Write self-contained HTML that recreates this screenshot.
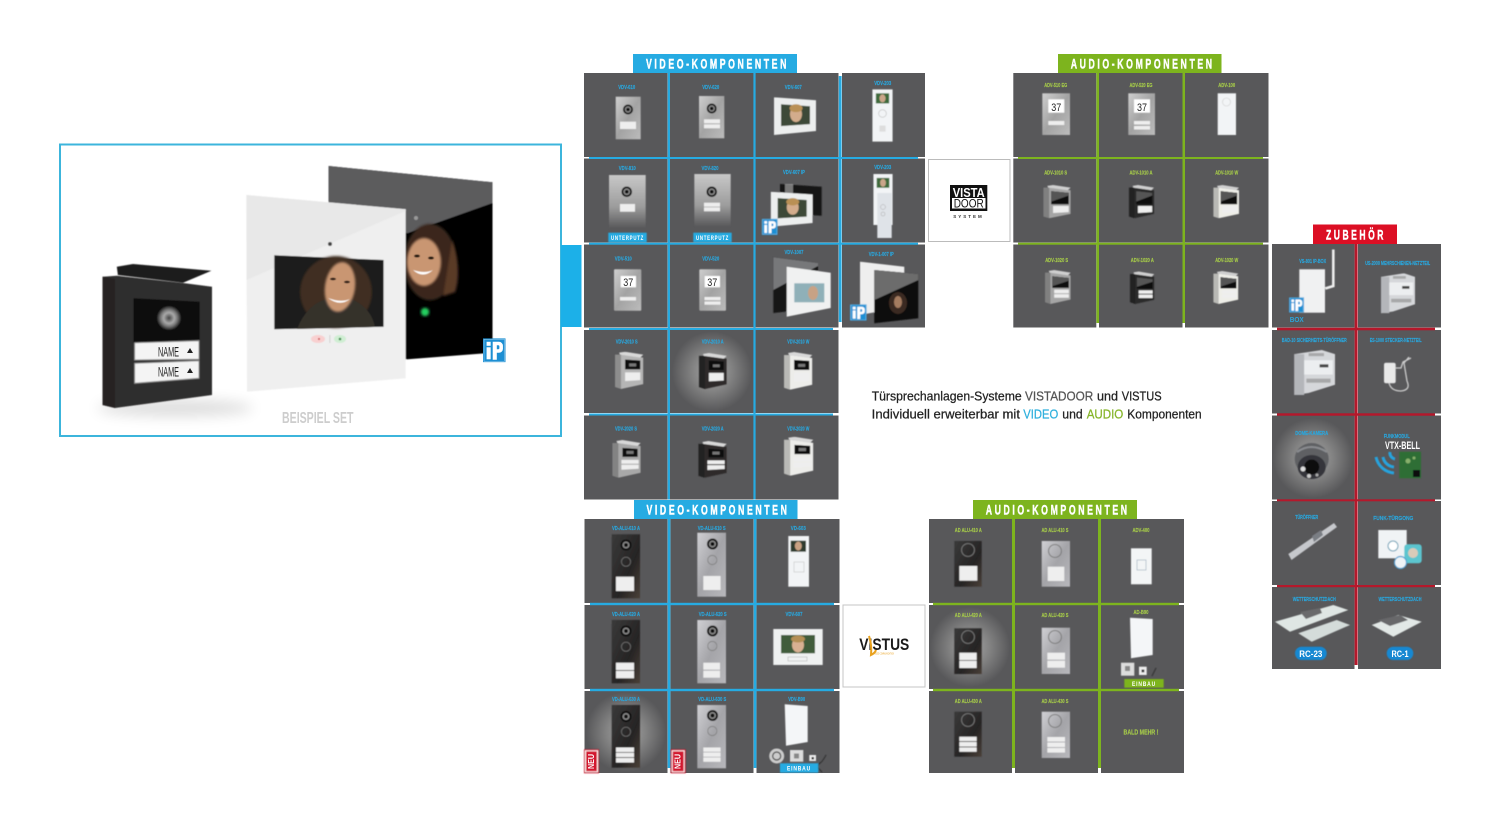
<!DOCTYPE html>
<html lang="de"><head><meta charset="utf-8"><title>Türsprechanlagen-Systeme</title>
<style>
html,body{margin:0;padding:0;background:#fff}
svg{display:block}
text{font-family:"Liberation Sans",sans-serif}
.l{font-size:5.5px;font-weight:bold;text-anchor:middle;fill:#2aa6dc;stroke:#2aa6dc;stroke-width:.15px}
.g{font-size:5.5px;font-weight:bold;text-anchor:middle;fill:#a5c94a;stroke:#a5c94a;stroke-width:.15px}
.b{font-size:13.5px;font-weight:bold;fill:#fff;letter-spacing:4px;stroke:#fff;stroke-width:.45px}
.m{font-size:13px;fill:#222;stroke:#222;stroke-width:.25px}
.c{fill:#58585a}
.n{font-size:6px;font-weight:bold;fill:#fff;text-anchor:middle;letter-spacing:1px}
</style></head><body>
<svg width="1500" height="815" viewBox="0 0 1500 815" xmlns="http://www.w3.org/2000/svg">
<defs>
<linearGradient id="alu" x1="0" y1="0" x2="1" y2="1"><stop offset="0" stop-color="#cfcfcf"/><stop offset=".5" stop-color="#a3a3a3"/><stop offset="1" stop-color="#bcbcbc"/></linearGradient>
<linearGradient id="up" x1="0" y1="0" x2="0" y2="1"><stop offset="0" stop-color="#c8c8c8"/><stop offset=".6" stop-color="#9c9c9c"/><stop offset="1" stop-color="#58585a"/></linearGradient>
<linearGradient id="dk" x1="0" y1="0" x2="1" y2="1"><stop offset="0" stop-color="#3a3a3a"/><stop offset=".6" stop-color="#262424"/><stop offset="1" stop-color="#4a4038"/></linearGradient>
<linearGradient id="sl" x1="0" y1="0" x2="1" y2="1"><stop offset="0" stop-color="#d0d0d4"/><stop offset=".5" stop-color="#a4a4a8"/><stop offset="1" stop-color="#b8b8bc"/></linearGradient>
<radialGradient id="gl"><stop offset="0" stop-color="#a8a8a8"/><stop offset=".5" stop-color="#828282"/><stop offset="1" stop-color="#58585a"/></radialGradient>
<radialGradient id="ln"><stop offset="0" stop-color="#444"/><stop offset=".45" stop-color="#aaa"/><stop offset=".7" stop-color="#777"/><stop offset="1" stop-color="#222"/></radialGradient>
<filter id="bl" x="-10%" y="-10%" width="120%" height="120%"><feGaussianBlur stdDeviation=".45"/></filter>
<filter id="bf" x="-20%" y="-20%" width="140%" height="140%"><feGaussianBlur stdDeviation="1"/></filter>
<filter id="sh" x="-30%" y="-100%" width="160%" height="300%"><feGaussianBlur stdDeviation="7"/></filter>

<symbol id="lens" viewBox="0 0 10 10"><circle cx="5" cy="5" r="5" fill="#0c0c0c"/><circle cx="5" cy="5" r="3.2" fill="#8a8a8a"/><circle cx="5" cy="5" r="1.8" fill="#111"/></symbol>
<symbol id="ring" viewBox="0 0 10 10"><circle cx="5" cy="5" r="4.6" fill="none" stroke="#777" stroke-width=".7"/></symbol>

<symbol id="b1" viewBox="0 0 28 38" preserveAspectRatio="none"><polygon points="0,3 6,3 28,6 28,33 6,38 0,36" fill="currentColor"/><polygon points="0,3 6,3 6,38 0,36" fill="#000" opacity=".22"/><polygon points="4,1 10,0 28,3 25,6 5,3" fill="#d8d8d8"/><polygon points="10,8 25,9 25,18 10,18" fill="#0a0a0a"/><rect x="14" y="12" width="7" height="3" fill="#777"/><polygon points="10,21 25,21 25,29 10,30" fill="#eee"/></symbol>
<symbol id="b2" viewBox="0 0 28 38" preserveAspectRatio="none"><polygon points="0,3 6,3 28,6 28,33 6,38 0,36" fill="currentColor"/><polygon points="0,3 6,3 6,38 0,36" fill="#000" opacity=".22"/><polygon points="4,1 10,0 28,3 25,6 5,3" fill="#d8d8d8"/><polygon points="10,8 25,9 25,17 10,17" fill="#0a0a0a"/><rect x="14" y="11" width="7" height="3" fill="#777"/><polygon points="9,20 26,20 26,24 9,24" fill="#eee"/><polygon points="9,25 26,25 26,29 9,30" fill="#eee"/></symbol>
<symbol id="a1" viewBox="0 0 28 38" preserveAspectRatio="none"><polygon points="0,3 6,3 28,6 28,33 6,38 0,36" fill="currentColor"/><polygon points="0,3 6,3 6,38 0,36" fill="#000" opacity=".22"/><polygon points="4,1 10,0 28,3 25,6 5,3" fill="#cfcfcf"/><polygon points="8,7 26,9 26,22 8,22" fill="#0a0a0a"/><polygon points="8,7 26,9 26,12 8,19" fill="#555"/><polygon points="10,24 26,24 26,31 10,32" fill="#eee"/></symbol>
<symbol id="a2" viewBox="0 0 28 38" preserveAspectRatio="none"><polygon points="0,3 6,3 28,6 28,33 6,38 0,36" fill="currentColor"/><polygon points="0,3 6,3 6,38 0,36" fill="#000" opacity=".22"/><polygon points="4,1 10,0 28,3 25,6 5,3" fill="#cfcfcf"/><polygon points="8,7 26,9 26,20 8,20" fill="#0a0a0a"/><polygon points="8,7 26,9 26,12 8,18" fill="#555"/><rect x="10" y="22" width="16" height="4" fill="#eee"/><rect x="10" y="27" width="16" height="4" fill="#eee"/></symbol>

<symbol id="ip" viewBox="0 0 22 24" preserveAspectRatio="none"><rect width="22" height="24" fill="#1d8fd3"/><rect x="1" y="1" width="20" height="22" fill="none" stroke="#fff" stroke-width=".5" opacity=".6"/><rect x="3.5" y="9" width="4" height="12" fill="#fff"/><rect x="3.5" y="3.5" width="4" height="4" fill="#fff"/><path d="M9.5 3.5h6a4 4 0 0 1 4 4v3a4 4 0 0 1-4 4h-2v7h-4zM13.5 7v4h1.5a1 1 0 0 0 1-1V8a1 1 0 0 0-1-1z" fill="#fff"/></symbol>

<symbol id="hs" viewBox="0 0 20 52" preserveAspectRatio="none"><rect width="20" height="52" fill="#f2f4f6"/><rect x="3.5" y="4" width="13" height="10" fill="#3d6a3a"/><ellipse cx="10" cy="9" rx="3" ry="4" fill="#caa68a"/><circle cx="10" cy="24" r="3.8" fill="none" stroke="#bbb" stroke-width=".6"/><rect x="7" y="36" width="6" height="6" fill="#ddd"/></symbol>

<symbol id="mn" viewBox="0 0 42 38" preserveAspectRatio="none"><polygon points="0,0 42,3 42,34 0,38" fill="#eceeee"/><polygon points="7,7 36,9 36,27 7,29" fill="#3c4a38"/><ellipse cx="22" cy="17" rx="6" ry="8" fill="#d3ac8c"/><ellipse cx="22" cy="11" rx="6.5" ry="4" fill="#b99055"/></symbol>

<symbol id="din" viewBox="0 0 40 44" preserveAspectRatio="none"><polygon points="3,4 28,0 40,4 40,34 16,42 3,44" fill="#d5d7da"/><polygon points="3,4 12,4 12,44 3,44" fill="#b4b6ba"/><rect x="12" y="10" width="26" height="14" fill="#eceef0"/><rect x="14" y="28" width="22" height="4" fill="#888" opacity=".6"/><rect x="16" y="3" width="14" height="3" fill="#888" opacity=".6"/><rect x="26" y="14" width="8" height="3" fill="#444"/></symbol>
</defs>

<!-- LEFT BOX -->
<rect x="60" y="144.500" width="501" height="291.500" fill="#fff" stroke="#3cb5dc" stroke-width="2"/>
<rect x="561" y="245" width="20.500" height="82" fill="#1cb0e8"/>
<g filter="url(#bl)">
<ellipse cx="175" cy="408" rx="78" ry="8" fill="#000" opacity=".14" filter="url(#sh)"/>
<polygon points="328.600,166 492.500,182.300 492.500,352.700 407.900,359.300 328.600,359" fill="#060606"/>
<polygon points="328.600,166 492.500,182.300 492.500,203 408,233 328.600,240" fill="#5b5b5d"/>
<ellipse cx="430" cy="262" rx="26" ry="38" fill="#3a261a" filter="url(#bf)"/>
<path d="M452 240q10 30 3 52l-12 4z" fill="#5a3a25" filter="url(#bf)"/>
<ellipse cx="424" cy="262" rx="17" ry="24" fill="#c99672" filter="url(#bf)"/>
<path d="M413 270q10 9 20 0q-8 4-20 0z" fill="#fff"/>
<ellipse cx="417" cy="256" rx="3" ry="1.500" fill="#241510"/><ellipse cx="431" cy="258" rx="3" ry="1.500" fill="#241510"/>
<ellipse cx="425" cy="312" rx="4" ry="4" fill="#21d060" filter="url(#bf)"/>
<circle cx="416" cy="218" r="2" fill="#999"/>
<polygon points="246.400,195 405.700,209.300 405.700,378.300 247,391.700" fill="#efefef"/>
<polygon points="246.400,195 405.700,209.300 405.700,211 246.500,280" fill="#e8e8e8"/>
<polygon points="274.300,255.300 383.600,260 383.600,326.700 274.300,329.300" fill="#1b1b1b"/>
<ellipse cx="336" cy="292" rx="36" ry="36" fill="#3f2d22" filter="url(#bf)"/>
<path d="M297 329q10-25 30-30l24 0q20 8 24 28z" fill="#35302c"/>
<ellipse cx="340" cy="287" rx="15" ry="25" fill="#c99672" filter="url(#bf)" transform="rotate(8 340 287)"/>
<path d="M328 298q12 9 22 1q-9 4-22-1z" fill="#fff"/>
<ellipse cx="333" cy="279" rx="3" ry="1.300" fill="#241510"/><ellipse cx="347" cy="282" rx="3" ry="1.300" fill="#241510"/>
<circle cx="330" cy="244" r="2" fill="#444"/>
<ellipse cx="318" cy="339" rx="7" ry="4" fill="#f8d0d0"/><circle cx="319" cy="339" r="1" fill="#c44"/>
<ellipse cx="340" cy="339" rx="6" ry="4" fill="#d0eed3"/><circle cx="340" cy="339" r="1.300" fill="#3a8a4a"/>
<rect x="329.500" y="335" width=".6" height="8" fill="#bbb"/>

<polygon points="102.500,276.700 116.800,275.700 183,283 212,286.700 212,395 115,408 102.500,405" fill="#2f2d2d"/>
<polygon points="102.500,276.700 115,279 115,408 102.500,405" fill="#252323"/>
<polygon points="116.800,266.700 133,264 211.400,270.700 183,282.700 117.900,275" fill="#1f1f1f"/>
<polygon points="133.600,298.300 199.600,301.700 199.600,340 133.600,343" fill="#0a0a0a"/>
<circle cx="169" cy="318" r="12" fill="url(#ln)"/>
<polygon points="134.600,342.700 199,340.700 199,359.300 134.600,360" fill="#f4f4f4" stroke="#8a8a8a"/>
<polygon points="134.600,363.300 199,360.700 199,378.300 134.600,383.300" fill="#f4f4f4" stroke="#8a8a8a"/>
</g>
<text x="158" y="356.500" font-size="14" fill="#222" textLength="21" lengthAdjust="spacingAndGlyphs">NAME</text>
<text x="158" y="376.500" font-size="14" fill="#222" textLength="21" lengthAdjust="spacingAndGlyphs">NAME</text>
<polygon points="190,348 193,353 187,353" fill="#222"/><polygon points="190,368 193,373 187,373" fill="#222"/>
<use href="#ip" x="483" y="338.300" width="22.500" height="24"/>
<text x="282" y="423" font-size="15.500" font-weight="bold" fill="#cdcdcd" textLength="71.500" lengthAdjust="spacingAndGlyphs">BEISPIEL SET</text>

<!-- CELLS -->
<g class="c">
<rect x="584" y="73" width="83.500" height="84"/><rect x="670" y="73" width="83.500" height="84"/><rect x="755.500" y="73" width="83" height="84"/><rect x="842" y="73" width="83" height="84"/>
<rect x="584" y="158.500" width="83.500" height="84"/><rect x="670" y="158.500" width="83.500" height="84"/><rect x="755.500" y="158.500" width="83" height="84"/><rect x="842" y="158.500" width="83" height="84"/>
<rect x="584" y="244.500" width="83.500" height="83"/><rect x="670" y="244.500" width="83.500" height="83"/><rect x="755.500" y="244.500" width="83" height="83"/><rect x="842" y="244.500" width="83" height="83"/>
<rect x="584" y="330" width="83.500" height="83"/><rect x="670" y="330" width="83.500" height="83"/><rect x="755.500" y="330" width="83" height="83"/>
<rect x="584" y="415.500" width="83.500" height="84"/><rect x="670" y="415.500" width="83.500" height="84"/><rect x="755.500" y="415.500" width="83" height="84"/>

<rect x="1013.300" y="73" width="83" height="84"/><rect x="1099" y="73" width="83.500" height="84"/><rect x="1185" y="73" width="83.500" height="84"/>
<rect x="1013.300" y="158.500" width="83" height="84"/><rect x="1099" y="158.500" width="83.500" height="84"/><rect x="1185" y="158.500" width="83.500" height="84"/>
<rect x="1013.300" y="244.500" width="83" height="83"/><rect x="1099" y="244.500" width="83.500" height="83"/><rect x="1185" y="244.500" width="83.500" height="83"/>

<rect x="1272" y="244" width="82.500" height="83.500"/><rect x="1358" y="244" width="83" height="83.500"/>
<rect x="1272" y="330" width="82.500" height="83.500"/><rect x="1358" y="330" width="83" height="83.500"/>
<rect x="1272" y="415.500" width="82.500" height="84"/><rect x="1358" y="415.500" width="83" height="84"/>
<rect x="1272" y="501" width="82.500" height="84"/><rect x="1358" y="501" width="83" height="84"/>
<rect x="1272" y="587" width="82.500" height="82"/><rect x="1358" y="587" width="83" height="82"/>

<rect x="584.500" y="519" width="83" height="84"/><rect x="670.500" y="519" width="83" height="84"/><rect x="756.500" y="519" width="83" height="84"/>
<rect x="584.500" y="605" width="83" height="84"/><rect x="670.500" y="605" width="83" height="84"/><rect x="756.500" y="605" width="83" height="84"/>
<rect x="584.500" y="691" width="83" height="82"/><rect x="670.500" y="691" width="83" height="82"/><rect x="756.500" y="691" width="83" height="82"/>

<rect x="929" y="519" width="83" height="84"/><rect x="1015" y="519" width="83" height="84"/><rect x="1101" y="519" width="83" height="84"/>
<rect x="929" y="605" width="83" height="84"/><rect x="1015" y="605" width="83" height="84"/><rect x="1101" y="605" width="83" height="84"/>
<rect x="929" y="691" width="83" height="82"/><rect x="1015" y="691" width="83" height="82"/><rect x="1101" y="691" width="83" height="82"/>
</g>
<!-- glows -->
<circle cx="712" cy="371.500" r="40" fill="url(#gl)"/>
<circle cx="1313" cy="458" r="40" fill="url(#gl)"/>
<circle cx="626" cy="732" r="40" fill="url(#gl)"/>
<circle cx="970" cy="647" r="40" fill="url(#gl)"/>

<!-- LINES -->
<g fill="#26abe2">
<rect x="589" y="157" width="329" height="2"/><rect x="589" y="242.700" width="329" height="2"/><rect x="589" y="328" width="244" height="2"/><rect x="589" y="413.500" width="244" height="2"/>
<rect x="667.700" y="73" width="2.300" height="426.500"/><rect x="753.400" y="73" width="2.200" height="426.500"/><rect x="838.800" y="76" width="2.800" height="246"/>
<rect x="590" y="602.800" width="244" height="2.400"/><rect x="590" y="688.800" width="244" height="2.400"/>
<rect x="667.700" y="519" width="2.700" height="249"/><rect x="753.700" y="519" width="2.700" height="249"/>
<rect x="633" y="54" width="164" height="19"/><rect x="634" y="500" width="163.500" height="19"/>
</g>
<g fill="#7db41e">
<rect x="1018" y="157" width="245" height="2"/><rect x="1018" y="242.700" width="245" height="2"/>
<rect x="1096.400" y="73" width="2.600" height="250"/><rect x="1182.500" y="73" width="2.500" height="250"/>
<rect x="933" y="602.800" width="246" height="2.400"/><rect x="933" y="688.800" width="246" height="2.400"/>
<rect x="1012" y="519" width="3" height="249"/><rect x="1098" y="519" width="3" height="249"/>
<rect x="1058" y="54" width="163.500" height="19"/><rect x="973" y="500" width="164" height="19"/>
</g>
<g fill="#b5182b">
<rect x="1277" y="327.700" width="158" height="2.600"/><rect x="1277" y="413.300" width="158" height="2.400"/><rect x="1277" y="499.300" width="158" height="2"/><rect x="1277" y="585" width="158" height="2.200"/>
<rect x="1354.600" y="244" width="3" height="421"/>
</g>
<rect x="1313" y="224.500" width="84" height="19.500" fill="#dc0f24"/>

<!-- BANNERS -->
<text class="b" x="646" y="68.500" textLength="143" lengthAdjust="spacingAndGlyphs">VIDEO-KOMPONENTEN</text>
<text class="b" x="1070.700" y="68.500" textLength="144" lengthAdjust="spacingAndGlyphs">AUDIO-KOMPONENTEN</text>
<text class="b" x="646.500" y="514.500" textLength="143" lengthAdjust="spacingAndGlyphs">VIDEO-KOMPONENTEN</text>
<text class="b" x="985.700" y="514.500" textLength="144" lengthAdjust="spacingAndGlyphs">AUDIO-KOMPONENTEN</text>
<text class="b" x="1326" y="239.500" textLength="60" lengthAdjust="spacingAndGlyphs">ZUBEHÖR</text>

<!-- DEVICES -->
<g filter="url(#bl)">
<!-- video top row 1 -->
<rect x="615.700" y="96.700" width="25" height="42.600" fill="url(#alu)"/><use href="#lens" x="623" y="104.500" width="10" height="10"/><rect x="620" y="121.700" width="16" height="7.300" fill="#eee"/>
<rect x="699" y="96" width="25.300" height="42.300" fill="url(#alu)"/><use href="#lens" x="706.700" y="103.500" width="10" height="10"/><rect x="704" y="119.300" width="16" height="4" fill="#eee"/><rect x="704" y="124.300" width="16" height="4" fill="#eee"/>
<use href="#mn" x="774" y="97.300" width="42" height="37.700"/>
<use href="#hs" x="872.300" y="89.300" width="20.400" height="52.400"/>
<!-- row 2 -->
<rect x="609" y="175" width="36.700" height="53.300" fill="url(#up)"/><use href="#lens" x="621.500" y="186.500" width="10.500" height="10.500"/><rect x="620" y="204" width="15" height="7.700" fill="#eee"/>
<rect x="694.300" y="174" width="36.400" height="52.700" fill="url(#up)"/><use href="#lens" x="706.500" y="186.500" width="10.500" height="10.500"/><rect x="704" y="202.700" width="16" height="4" fill="#eee"/><rect x="704" y="207.300" width="16" height="4" fill="#eee"/>
<rect x="608.300" y="232.700" width="38.400" height="9.600" fill="#26abe2"/><rect x="693.300" y="232.700" width="38.400" height="9.600" fill="#26abe2"/>
<polygon points="780,184 821.700,186.700 821.700,215.700 780,213" fill="#151515"/><rect x="785" y="184" width="8" height="12" fill="#bbb" opacity=".6"/>
<use href="#mn" x="770.700" y="191.700" width="42" height="35"/>
<use href="#ip" x="761.700" y="218.700" width="16" height="16.300"/>
<use href="#hs" x="873.300" y="174" width="19.400" height="51"/>
<rect x="877.300" y="193" width="14.400" height="45" fill="#dfe3e8"/><circle cx="883" cy="207" r="2.500" fill="none" stroke="#aaa" stroke-width=".5"/><circle cx="883" cy="214" r="2" fill="none" stroke="#aaa" stroke-width=".5"/>
<!-- row 3 -->
<rect x="614" y="269.300" width="27.300" height="41.400" rx="1" fill="url(#alu)"/><rect x="620.700" y="276" width="15.300" height="11.300" fill="#fff"/><rect x="620" y="297" width="16" height="3.500" fill="#eee"/>
<rect x="699.300" y="269.300" width="26.700" height="41.400" rx="1" fill="url(#alu)"/><rect x="704.700" y="276" width="15.300" height="11.300" fill="#fff"/><rect x="704.500" y="297" width="16" height="3.200" fill="#eee"/><rect x="704.500" y="301.500" width="16" height="3.200" fill="#eee"/>
<polygon points="773.300,257.300 818,263 818,308 773.300,313" fill="#151515"/><polygon points="773.300,257.300 818,263 818,266 773.300,290" fill="#77787a"/>
<polygon points="786.700,266.700 830.700,272.700 830.700,308 786.700,316.700" fill="#f0f1f1"/><rect x="794.300" y="283.300" width="30" height="19" fill="#8fb0b8"/><ellipse cx="813" cy="293" rx="5" ry="7" fill="#c7a285"/>
<polygon points="860,261.700 904.300,266.700 904.300,306.700 860,315" fill="#eeeeee"/>
<polygon points="874.300,270 918.300,274 918.300,318.300 874.300,323.300" fill="#111"/><polygon points="874.300,270 918.300,274 918.300,280 874.300,300" fill="#6c6c6c"/><ellipse cx="898" cy="303" rx="9" ry="11" fill="#3b2a20"/><ellipse cx="898" cy="302" rx="4" ry="6" fill="#a47c60"/>
<use href="#ip" x="850" y="304.300" width="16.700" height="16.400"/>
<!-- row 4 / 5 -->
<use href="#b1" x="615" y="351.700" width="28.300" height="37.300" color="#b5b5b5"/>
<use href="#b1" x="699" y="353" width="27.700" height="36" color="#2e2c2c"/>
<use href="#b1" x="784" y="352" width="28.300" height="37.700" color="#ededea"/>
<use href="#b2" x="612.300" y="440" width="28.400" height="37.700" color="#a8a8a8"/>
<use href="#b2" x="698.300" y="441" width="28.400" height="36.700" color="#2e2c2c"/>
<use href="#b2" x="784" y="436.700" width="29.300" height="39" color="#ededea"/>
<!-- audio top -->
<rect x="1042.300" y="93.300" width="27.700" height="41.700" fill="url(#alu)"/><rect x="1048.300" y="99.300" width="16" height="13.400" fill="#fff"/><rect x="1048.300" y="121" width="16" height="4" fill="#eee"/>
<rect x="1128.300" y="93.300" width="26.700" height="41.700" fill="url(#alu)"/><rect x="1134" y="99.300" width="16" height="13.400" fill="#fff"/><rect x="1134" y="121" width="16" height="3.500" fill="#eee"/><rect x="1134" y="126" width="16" height="3.500" fill="#eee"/>
<rect x="1217.700" y="93.300" width="18.300" height="41.700" fill="#f2f4f6"/><circle cx="1226.500" cy="102" r="4" fill="none" stroke="#ccc" stroke-width=".6"/>
<use href="#a1" x="1043.300" y="185" width="27.400" height="33.300" color="#a5a5a5"/>
<use href="#a1" x="1129" y="185" width="25" height="33.300" color="#2b2b2b"/>
<use href="#a1" x="1213.300" y="185" width="25.700" height="33.300" color="#eeeee8"/>
<use href="#a2" x="1045" y="270" width="25.700" height="34" color="#a5a5a5"/>
<use href="#a2" x="1130" y="271.500" width="24.300" height="32.500" color="#2b2b2b"/>
<use href="#a2" x="1213.300" y="271" width="25" height="33" color="#eeeee8"/>
<!-- Zubehoer -->
<rect x="1299.300" y="269.300" width="25.700" height="43.400" fill="#f0f1f2"/>
<path d="M1333.300 249.500V286l-8 2.500" fill="none" stroke="#eee" stroke-width="2.600"/>
<use href="#ip" x="1289" y="297.300" width="15" height="15.400"/>
<use href="#din" x="1378.300" y="273.300" width="36.700" height="40"/>
<use href="#din" x="1291" y="350" width="44" height="45"/>
<rect x="1384" y="362.700" width="11.700" height="20.600" rx="2" fill="#e8e8e8"/>
<path d="M1395 368h6l2-6 8-4M1389 383q2 8 12 8q10-1 6-10l-3-18 5-6" fill="none" stroke="#ccc" stroke-width="1.300"/>
<ellipse cx="1311.700" cy="459" rx="17" ry="16" fill="#5e6064"/><path d="M1297 452q14-10 30 0" fill="none" stroke="#8a8c90" stroke-width="2"/><ellipse cx="1311.700" cy="467" rx="14" ry="12" fill="#35363a"/><circle cx="1311.700" cy="467" r="7.500" fill="#0c0c0e"/><circle cx="1303" cy="469" r="2.500" fill="#ddd"/><circle cx="1309" cy="476" r="2" fill="#ccc"/><circle cx="1317" cy="475" r="1.500" fill="#aaa"/>
<path d="M1376 457a20 20 0 0 0 18 16M1383 457a12 12 0 0 0 11 10M1390 452a6 6 0 0 0 5 7" fill="none" stroke="#26a3de" stroke-width="3"/>
<rect x="1399.300" y="451.700" width="21.700" height="26.600" fill="#2e6e35"/><rect x="1413" y="470" width="7" height="7" fill="#0a0a0a"/><circle cx="1408" cy="461" r="2.500" fill="#87b06c"/><circle cx="1414" cy="458" r="1.500" fill="#87b06c"/>
<polygon points="1288.300,554 1334,523 1337,527 1291.500,560" fill="#c6c8cc"/><polygon points="1312,536 1321,530 1323,535 1314,542" fill="#7a7e84"/>
<rect x="1378.300" y="530" width="28.400" height="28.300" fill="#f0f3f5"/><circle cx="1393" cy="546" r="5" fill="#fff" stroke="#6ea2b8" stroke-width="1"/>
<rect x="1404.300" y="544.300" width="17.400" height="19" rx="3" fill="#5cc5cf"/><circle cx="1413" cy="553" r="5" fill="#d9cbb9"/>
<circle cx="1400.500" cy="562.500" r="6" fill="#eef3f6" stroke="#4f9fd0" stroke-width="1.200"/>
<polygon points="1275,621.700 1333.300,605 1348.300,610 1290,631.700" fill="#dfe6e4"/>
<polygon points="1298.300,633.300 1336.700,620 1350,625 1311.700,641.700" fill="#d4dcda"/>
<polygon points="1300,612 1320,608 1322,613 1306,619" fill="#6a6a6c"/>
<polygon points="1371.700,625 1398.300,615 1421.700,621.700 1393.300,636.700" fill="#e2e8e6"/>
<polygon points="1378,620 1400,615 1408,620 1390,626" fill="#67676a"/>
<rect x="1295" y="646.700" width="31.700" height="13.300" rx="6.600" fill="#1688d2"/>
<rect x="1386.700" y="646.700" width="26.600" height="13.300" rx="6.600" fill="#1688d2"/>
<!-- video bottom -->
<rect x="611.700" y="534.300" width="28.300" height="64" fill="url(#dk)"/><use href="#lens" x="620.500" y="539.500" width="11" height="11"/><use href="#ring" x="621" y="556.700" width="10" height="10"/><rect x="616" y="576.700" width="18" height="14.300" fill="#eee"/>
<rect x="697.300" y="532.700" width="28.700" height="64" fill="url(#sl)"/><use href="#lens" x="707" y="538.500" width="11" height="11"/><use href="#ring" x="707.300" y="555" width="10" height="10"/><rect x="703.300" y="576" width="17.300" height="14" fill="#eee"/>
<rect x="788.300" y="536" width="20.700" height="50.700" fill="#f2f4f6"/><rect x="790.700" y="540.700" width="15.300" height="11" fill="#2f3b2d"/><ellipse cx="798.300" cy="546" rx="3.500" ry="4.500" fill="#c9a183"/><rect x="794" y="562" width="10" height="10" fill="none" stroke="#bbb" stroke-width=".5"/>
<rect x="611.700" y="620" width="28.300" height="63.300" fill="url(#dk)"/><use href="#lens" x="620.500" y="625.500" width="11" height="11"/><use href="#ring" x="621" y="641.700" width="10" height="10"/><rect x="616" y="662.700" width="18" height="7.300" fill="#eee"/><rect x="616" y="670.800" width="18" height="7.500" fill="#eee"/>
<rect x="697.300" y="620" width="28.700" height="63.300" fill="url(#sl)"/><use href="#lens" x="707" y="625.500" width="11" height="11"/><use href="#ring" x="707.300" y="641" width="10" height="10"/><rect x="703.300" y="662.700" width="16.700" height="7" fill="#eee"/><rect x="703.300" y="670.700" width="16.700" height="7" fill="#eee"/>
<rect x="773.300" y="629" width="49.400" height="36" fill="#eff1f1"/><rect x="781" y="635" width="34" height="18.300" fill="#3f5b3a"/><ellipse cx="798" cy="645" rx="6" ry="7.500" fill="#d8b092"/><ellipse cx="798" cy="639" rx="7" ry="3.500" fill="#b48f55"/><rect x="788" y="657" width="19" height="4" fill="none" stroke="#aaa" stroke-width=".5"/>
<rect x="611.700" y="705" width="28.300" height="62.700" fill="url(#dk)"/><use href="#lens" x="620.500" y="711" width="11" height="11"/><use href="#ring" x="621" y="726.700" width="10" height="10"/><rect x="616" y="747.500" width="18" height="4.500" fill="#eee"/><rect x="616" y="752.700" width="18" height="4.500" fill="#eee"/><rect x="616" y="758" width="18" height="4.500" fill="#eee"/>
<rect x="697.300" y="705" width="28.700" height="63.300" fill="url(#sl)"/><use href="#lens" x="707" y="710" width="11" height="11"/><use href="#ring" x="707.300" y="726" width="10" height="10"/><rect x="703.300" y="747.500" width="17.300" height="4.300" fill="#eee"/><rect x="703.300" y="752.500" width="17.300" height="4.300" fill="#eee"/><rect x="703.300" y="757.500" width="17.300" height="4.300" fill="#eee"/>
<polygon points="784.700,704.300 807.700,706 807.700,742 786,745.700" fill="#f4f6f8"/>
<circle cx="776.700" cy="756" r="7.500" fill="#ccc"/><circle cx="776.700" cy="756" r="4" fill="none" stroke="#444" stroke-width="1.200"/>
<rect x="790" y="750" width="13.300" height="11.700" fill="#ddd"/><rect x="794" y="753.500" width="5" height="5" fill="#888"/>
<rect x="809.300" y="755" width="6.700" height="6" fill="#eee"/><rect x="811.500" y="757" width="2.500" height="2.500" fill="#333"/>
<path d="M826 755q-3 6-6 8t-2 5l4 4" fill="none" stroke="#222" stroke-width=".8"/>
<rect x="780" y="763.300" width="38.300" height="9.400" fill="#26abe2"/>
<!-- audio bottom -->
<rect x="954.300" y="541" width="27.400" height="45.700" fill="url(#dk)"/><use href="#ring" x="961" y="543" width="14" height="14"/><rect x="959.300" y="566" width="18" height="14.700" fill="#eee"/>
<rect x="1041.700" y="541" width="28.300" height="45.700" fill="url(#sl)"/><use href="#ring" x="1048" y="544" width="14" height="14"/><rect x="1047.700" y="566.700" width="16.600" height="14.300" fill="#eee"/>
<rect x="1131" y="548.300" width="20.700" height="36" fill="#f3f5f6"/><rect x="1137" y="560" width="9" height="10" fill="none" stroke="#9ab" stroke-width=".6"/>
<rect x="954.300" y="628.300" width="27.400" height="45.700" fill="url(#dk)"/><use href="#ring" x="961" y="630" width="14" height="14"/><rect x="959.300" y="652.700" width="17.400" height="7.300" fill="#eee"/><rect x="959.300" y="660.700" width="17.400" height="7.300" fill="#eee"/>
<rect x="1041.700" y="627.700" width="28.300" height="46.300" fill="url(#sl)"/><use href="#ring" x="1048" y="630" width="14" height="14"/><rect x="1047.300" y="652.700" width="17.700" height="7" fill="#eee"/><rect x="1047.300" y="660.700" width="17.700" height="7" fill="#eee"/>
<polygon points="1130,617.700 1152.700,619 1152.700,655 1131,658.300" fill="#f4f6f8"/>
<rect x="1121" y="662.700" width="13.300" height="13" fill="#ddd"/><rect x="1125" y="666" width="5" height="5" fill="#888"/>
<rect x="1139" y="666.700" width="7.700" height="8.300" fill="#eee"/><rect x="1141.500" y="669.500" width="2.800" height="2.800" fill="#333"/>
<path d="M1156 668l-4 8" stroke="#222" stroke-width=".8"/>
<rect x="1124.300" y="679" width="39.400" height="8.700" fill="#7db41e"/>
<rect x="954.300" y="711.700" width="27.400" height="45" fill="url(#dk)"/><use href="#ring" x="961" y="713" width="14" height="14"/><rect x="959.300" y="736.700" width="17.400" height="4.500" fill="#eee"/><rect x="959.300" y="742" width="17.400" height="4.500" fill="#eee"/><rect x="959.300" y="747.300" width="17.400" height="4.500" fill="#eee"/>
<rect x="1041.700" y="711.700" width="28.300" height="46.300" fill="url(#sl)"/><use href="#ring" x="1048" y="714" width="14" height="14"/><rect x="1047.300" y="737" width="17.700" height="4.600" fill="#eee"/><rect x="1047.300" y="742.500" width="17.700" height="4.600" fill="#eee"/><rect x="1047.300" y="748" width="17.700" height="4.600" fill="#eee"/>
<!-- NEU -->
<rect x="584" y="749.300" width="15" height="24" fill="#d2122e"/><rect x="585.500" y="750.800" width="12" height="21" fill="none" stroke="#fff"/>
<rect x="670.700" y="749.300" width="15" height="24" fill="#d2122e"/><rect x="672.200" y="750.800" width="12" height="21" fill="none" stroke="#fff"/>
</g>

<!-- small device text -->
<text x="628.300" y="286" font-size="11" text-anchor="middle" fill="#222" textLength="10" lengthAdjust="spacingAndGlyphs">37</text>
<text x="712.300" y="286" font-size="11" text-anchor="middle" fill="#222" textLength="10" lengthAdjust="spacingAndGlyphs">37</text>
<text x="1056.300" y="111" font-size="11" text-anchor="middle" fill="#222" textLength="10" lengthAdjust="spacingAndGlyphs">37</text>
<text x="1142" y="111" font-size="11" text-anchor="middle" fill="#222" textLength="10" lengthAdjust="spacingAndGlyphs">37</text>
<text class="n" x="627.500" y="240" textLength="33" lengthAdjust="spacingAndGlyphs">UNTERPUTZ</text>
<text class="n" x="712.500" y="240" textLength="33" lengthAdjust="spacingAndGlyphs">UNTERPUTZ</text>
<text class="n" x="799" y="770.500" textLength="24" lengthAdjust="spacingAndGlyphs">EINBAU</text>
<text class="n" x="1144" y="686" textLength="24" lengthAdjust="spacingAndGlyphs">EINBAU</text>
<text class="n" transform="translate(594 761.500) rotate(-90)" x="0" y="0" style="font-size:8px;letter-spacing:0" textLength="15" lengthAdjust="spacingAndGlyphs">NEU</text>
<text class="n" transform="translate(680.700 761.500) rotate(-90)" x="0" y="0" style="font-size:8px;letter-spacing:0" textLength="15" lengthAdjust="spacingAndGlyphs">NEU</text>
<text x="1296.700" y="322" font-size="7" font-weight="bold" text-anchor="middle" fill="#2aa6dc" textLength="14" lengthAdjust="spacingAndGlyphs">BOX</text>
<text x="1402.500" y="449" font-size="11" font-weight="bold" text-anchor="middle" fill="#fff" textLength="35" lengthAdjust="spacingAndGlyphs">VTX-BELL</text>
<text x="1310.800" y="657" font-size="9" font-weight="bold" text-anchor="middle" fill="#fff" textLength="23" lengthAdjust="spacingAndGlyphs">RC-23</text>
<text x="1400" y="657" font-size="9" font-weight="bold" text-anchor="middle" fill="#fff" textLength="17" lengthAdjust="spacingAndGlyphs">RC-1</text>

<!-- LABELS -->
<g>
<text class="l" x="626.700" y="89" textLength="17" lengthAdjust="spacingAndGlyphs">VDV-610</text>
<text class="l" x="710.700" y="89" textLength="17" lengthAdjust="spacingAndGlyphs">VDV-620</text>
<text class="l" x="793.300" y="89" textLength="17" lengthAdjust="spacingAndGlyphs">VDV-607</text>
<text class="l" x="882.700" y="85" textLength="17" lengthAdjust="spacingAndGlyphs">VDV-203</text>
<text class="l" x="627.300" y="170" textLength="17" lengthAdjust="spacingAndGlyphs">VDV-810</text>
<text class="l" x="710" y="170" textLength="17" lengthAdjust="spacingAndGlyphs">VDV-820</text>
<text class="l" x="794" y="174" textLength="22" lengthAdjust="spacingAndGlyphs">VDV-607 IP</text>
<text class="l" x="882.700" y="169" textLength="17" lengthAdjust="spacingAndGlyphs">VDV-203</text>
<text class="l" x="623.300" y="260.500" textLength="17" lengthAdjust="spacingAndGlyphs">VDV-510</text>
<text class="l" x="710.700" y="260.500" textLength="17" lengthAdjust="spacingAndGlyphs">VDV-520</text>
<text class="l" x="794" y="254" textLength="19" lengthAdjust="spacingAndGlyphs">VDV-1007</text>
<text class="l" x="881.300" y="256" textLength="25" lengthAdjust="spacingAndGlyphs">VDV-1-007 IP</text>
<text class="l" x="626.700" y="343.500" textLength="22" lengthAdjust="spacingAndGlyphs">VDV-2010 S</text>
<text class="l" x="712.700" y="343.500" textLength="22" lengthAdjust="spacingAndGlyphs">VDV-2010 A</text>
<text class="l" x="798.300" y="343.500" textLength="22" lengthAdjust="spacingAndGlyphs">VDV-2010 W</text>
<text class="l" x="626" y="430.500" textLength="22" lengthAdjust="spacingAndGlyphs">VDV-2020 S</text>
<text class="l" x="712.700" y="430.500" textLength="22" lengthAdjust="spacingAndGlyphs">VDV-2020 A</text>
<text class="l" x="798.300" y="430.500" textLength="22" lengthAdjust="spacingAndGlyphs">VDV-2020 W</text>

<text class="g" x="1055.700" y="87" textLength="23" lengthAdjust="spacingAndGlyphs">ADV-510 EG</text>
<text class="g" x="1141" y="87" textLength="23" lengthAdjust="spacingAndGlyphs">ADV-520 EG</text>
<text class="g" x="1226.700" y="87" textLength="17" lengthAdjust="spacingAndGlyphs">ADV-100</text>
<text class="g" x="1055.700" y="174.500" textLength="23" lengthAdjust="spacingAndGlyphs">ADV-1010 S</text>
<text class="g" x="1141" y="174.500" textLength="23" lengthAdjust="spacingAndGlyphs">ADV-1010 A</text>
<text class="g" x="1226.700" y="174.500" textLength="23" lengthAdjust="spacingAndGlyphs">ADV-1010 W</text>
<text class="g" x="1056.700" y="262" textLength="23" lengthAdjust="spacingAndGlyphs">ADV-1020 S</text>
<text class="g" x="1142.300" y="262" textLength="23" lengthAdjust="spacingAndGlyphs">ADV-1020 A</text>
<text class="g" x="1226.700" y="262" textLength="23" lengthAdjust="spacingAndGlyphs">ADV-1020 W</text>

<text class="l" x="1312.700" y="263" textLength="27" lengthAdjust="spacingAndGlyphs">VS-801 IP-BOX</text>
<text class="l" x="1397.700" y="265" textLength="65" lengthAdjust="spacingAndGlyphs">US-2000 MEHRSCHIENEN-NETZTEIL</text>
<text class="l" x="1314.300" y="342" textLength="65" lengthAdjust="spacingAndGlyphs">BAD-10 SICHERHEITS-TÜRÖFFNER</text>
<text class="l" x="1395.700" y="342" textLength="52" lengthAdjust="spacingAndGlyphs">ES-1000 STECKER-NETZTEIL</text>
<text class="l" x="1311.700" y="435" textLength="33" lengthAdjust="spacingAndGlyphs">DOME-KAMERA</text>
<text class="l" x="1396.700" y="438" textLength="26" lengthAdjust="spacingAndGlyphs">FUNKMODUL</text>
<text class="l" x="1306.700" y="519" textLength="23" lengthAdjust="spacingAndGlyphs">TÜRÖFFNER</text>
<text class="l" x="1393.300" y="520" textLength="40" lengthAdjust="spacingAndGlyphs">FUNK-TÜRGONG</text>
<text class="l" x="1314.300" y="601" textLength="43" lengthAdjust="spacingAndGlyphs">WETTERSCHUTZDACH</text>
<text class="l" x="1400" y="601" textLength="43" lengthAdjust="spacingAndGlyphs">WETTERSCHUTZDACH</text>

<text class="l" x="626" y="530" textLength="28" lengthAdjust="spacingAndGlyphs">VD-ALU-610 A</text>
<text class="l" x="711.700" y="530" textLength="28" lengthAdjust="spacingAndGlyphs">VD-ALU-610 S</text>
<text class="l" x="798.300" y="530" textLength="15" lengthAdjust="spacingAndGlyphs">VD-603</text>
<text class="l" x="626" y="616" textLength="28" lengthAdjust="spacingAndGlyphs">VD-ALU-620 A</text>
<text class="l" x="712.700" y="616" textLength="28" lengthAdjust="spacingAndGlyphs">VD-ALU-620 S</text>
<text class="l" x="794" y="616" textLength="17" lengthAdjust="spacingAndGlyphs">VDV-607</text>
<text class="l" x="626" y="701" textLength="28" lengthAdjust="spacingAndGlyphs">VD-ALU-630 A</text>
<text class="l" x="712.300" y="701" textLength="28" lengthAdjust="spacingAndGlyphs">VD-ALU-630 S</text>
<text class="l" x="796.700" y="701" textLength="17" lengthAdjust="spacingAndGlyphs">VDV-B90</text>

<text class="g" x="968.300" y="532" textLength="27" lengthAdjust="spacingAndGlyphs">AD ALU-410 A</text>
<text class="g" x="1055" y="532" textLength="27" lengthAdjust="spacingAndGlyphs">AD ALU-410 S</text>
<text class="g" x="1141" y="532" textLength="17" lengthAdjust="spacingAndGlyphs">ADV-400</text>
<text class="g" x="968.300" y="617" textLength="27" lengthAdjust="spacingAndGlyphs">AD ALU-420 A</text>
<text class="g" x="1055" y="617" textLength="27" lengthAdjust="spacingAndGlyphs">AD ALU-420 S</text>
<text class="g" x="1141" y="614" textLength="15" lengthAdjust="spacingAndGlyphs">AD-B90</text>
<text class="g" x="968.300" y="703" textLength="27" lengthAdjust="spacingAndGlyphs">AD ALU-430 A</text>
<text class="g" x="1055" y="703" textLength="27" lengthAdjust="spacingAndGlyphs">AD ALU-430 S</text>
<text class="g" x="1141" y="734.500" style="font-size:7px" textLength="35" lengthAdjust="spacingAndGlyphs">BALD MEHR !</text>
</g>

<!-- LOGOS -->
<rect x="928.500" y="159.500" width="81.500" height="82" fill="#fff" stroke="#bbb"/>
<rect x="950" y="185" width="37.300" height="26" fill="#111"/>
<rect x="952" y="198" width="33.500" height="10.500" fill="#fff"/>
<text x="968.700" y="197" font-size="13" font-weight="bold" text-anchor="middle" fill="#fff" textLength="32" lengthAdjust="spacingAndGlyphs">VISTA</text>
<text x="968.700" y="207.300" font-size="11.500" text-anchor="middle" fill="#111" textLength="30" lengthAdjust="spacingAndGlyphs">DOOR</text>
<text x="968.500" y="218" font-size="4.500" font-weight="bold" text-anchor="middle" fill="#333" letter-spacing="2">SYSTEM</text>

<rect x="843" y="605" width="82" height="82" fill="#fff" stroke="#c4c4c4"/>
<text x="859.300" y="650" font-size="17" font-weight="bold" fill="#1a1a1a" textLength="50" lengthAdjust="spacingAndGlyphs">VISTUS</text>
<path d="M869 636q3 9 2 19q4-2 5-5" fill="none" stroke="#e9a11d" stroke-width="2"/>
<text x="884" y="654.500" font-size="3" fill="#e9a11d" text-anchor="middle" textLength="20" lengthAdjust="spacingAndGlyphs">VIDEO COMMUNICATION</text>

<!-- CENTER TEXT -->
<text class="m" x="871.700" y="400.500" textLength="150" lengthAdjust="spacingAndGlyphs">Türsprechanlagen-Systeme</text>
<text class="m" x="1025" y="400.500" style="fill:#555;stroke:#555" textLength="68.300" lengthAdjust="spacingAndGlyphs">VISTADOOR</text>
<text class="m" x="1097" y="400.500" textLength="21" lengthAdjust="spacingAndGlyphs">und</text>
<text class="m" x="1121.700" y="400.500" textLength="40" lengthAdjust="spacingAndGlyphs">VISTUS</text>
<text class="m" x="871.700" y="418.500" textLength="148.300" lengthAdjust="spacingAndGlyphs">Individuell erweiterbar mit</text>
<text class="m" x="1023.300" y="418.500" style="fill:#2fb0dd;stroke:#2fb0dd" textLength="35" lengthAdjust="spacingAndGlyphs">VIDEO</text>
<text class="m" x="1062.300" y="418.500" textLength="20.400" lengthAdjust="spacingAndGlyphs">und</text>
<text class="m" x="1086.700" y="418.500" style="fill:#86b52a;stroke:#86b52a" textLength="36.600" lengthAdjust="spacingAndGlyphs">AUDIO</text>
<text class="m" x="1127.300" y="418.500" textLength="74.400" lengthAdjust="spacingAndGlyphs">Komponenten</text>
</svg>
</body></html>
